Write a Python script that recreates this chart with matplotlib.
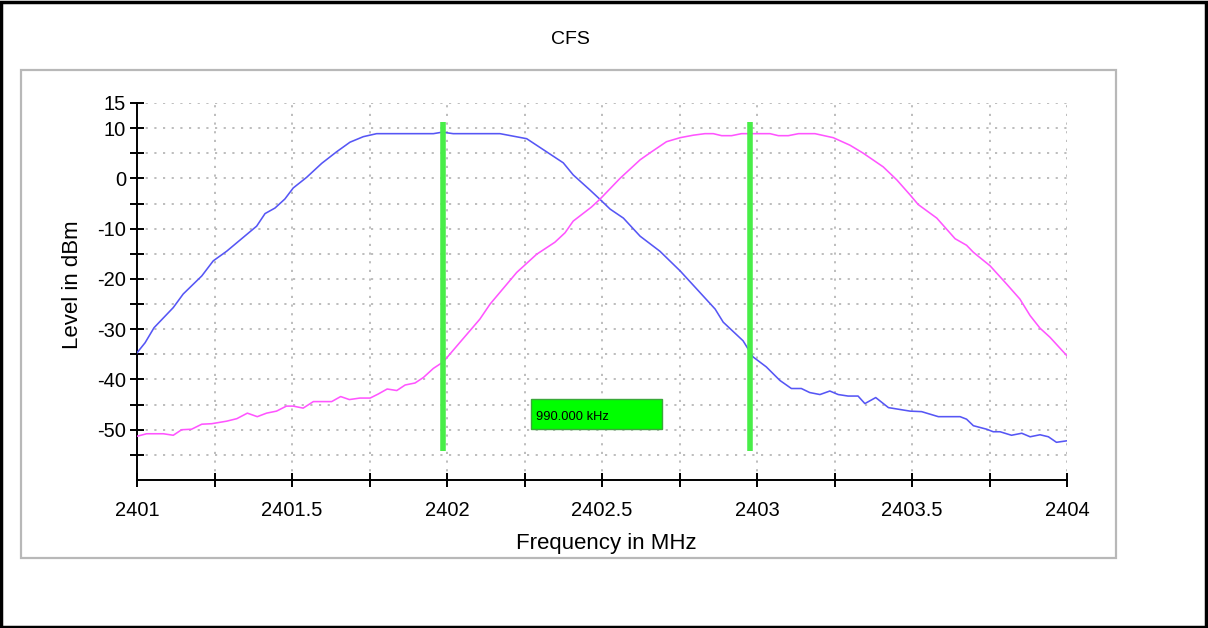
import matplotlib
matplotlib.use("Agg")
import matplotlib.pyplot as plt
from matplotlib.patches import Rectangle
import numpy as np

plt.rcParams['font.family'] = ['Liberation Sans', 'DejaVu Sans']

# trace 1 (blue)
blue_f = [2401.000, 2401.026, 2401.055, 2401.117, 2401.149, 2401.209, 2401.246, 2401.289,
          2401.322, 2401.386, 2401.413, 2401.445, 2401.477, 2401.504, 2401.547, 2401.596,
          2401.644, 2401.687, 2401.730, 2401.773, 2401.956, 2401.985, 2402.020, 2402.171,
          2402.257, 2402.321, 2402.375, 2402.407, 2402.461, 2402.494, 2402.526, 2402.569,
          2402.623, 2402.687, 2402.752, 2402.816, 2402.865, 2402.891, 2402.955, 2402.987,
          2403.030, 2403.074, 2403.111, 2403.143, 2403.170, 2403.203, 2403.235, 2403.262,
          2403.294, 2403.326, 2403.348, 2403.383, 2403.424, 2403.494, 2403.531, 2403.585,
          2403.655, 2403.676, 2403.698, 2403.741, 2403.762, 2403.784, 2403.821, 2403.854,
          2403.881, 2403.913, 2403.940, 2403.966, 2404.000]
blue_db = [-34.7, -32.7, -29.7, -25.7, -23.0, -19.4, -16.4, -14.5,
           -12.8, -9.5, -7.0, -5.9, -4.1, -1.9, 0.2, 3.0,
           5.3, 7.2, 8.3, 8.9, 8.9, 9.2, 8.9, 8.9,
           7.9, 5.3, 3.1, 0.7, -2.3, -4.2, -6.1, -7.9,
           -11.5, -14.5, -18.4, -22.7, -26.0, -28.6, -32.3, -35.5,
           -37.5, -40.2, -41.8, -41.8, -42.6, -43.0, -42.3, -43.0,
           -43.3, -43.3, -44.8, -43.6, -45.6, -46.3, -46.4, -47.4,
           -47.4, -47.9, -49.2, -49.9, -50.4, -50.4, -51.1, -50.7,
           -51.4, -51.0, -51.4, -52.5, -52.2]

# trace 2 (magenta)
mag_f = [2401.000, 2401.031, 2401.085, 2401.117, 2401.144, 2401.176, 2401.209, 2401.241,
         2401.289, 2401.322, 2401.356, 2401.388, 2401.418, 2401.450, 2401.482, 2401.504,
         2401.536, 2401.569, 2401.628, 2401.657, 2401.685, 2401.719, 2401.752, 2401.778,
         2401.807, 2401.838, 2401.865, 2401.897, 2401.924, 2401.956, 2401.988, 2402.042,
         2402.106, 2402.139, 2402.225, 2402.289, 2402.348, 2402.381, 2402.407, 2402.466,
         2402.494, 2402.558, 2402.623, 2402.660, 2402.708, 2402.752, 2402.795, 2402.832,
         2402.859, 2402.886, 2402.918, 2402.950, 2403.042, 2403.069, 2403.101, 2403.134,
         2403.187, 2403.246, 2403.300, 2403.343, 2403.407, 2403.451, 2403.494, 2403.520,
         2403.580, 2403.639, 2403.676, 2403.698, 2403.752, 2403.805, 2403.848, 2403.881,
         2403.913, 2403.945, 2404.000]
mag_db = [-51.3, -50.8, -50.8, -51.1, -50.0, -49.9, -48.9, -48.8,
          -48.3, -47.8, -46.7, -47.4, -46.7, -46.3, -45.3, -45.3,
          -45.7, -44.4, -44.4, -43.4, -44.0, -43.7, -43.7, -42.9,
          -41.9, -42.2, -41.1, -40.7, -39.6, -37.8, -36.5, -32.6,
          -28.0, -25.0, -18.7, -15.1, -12.7, -10.8, -8.5, -5.7,
          -4.1, 0.0, 3.7, 5.3, 7.3, 8.1, 8.6, 8.9,
          8.9, 8.5, 8.5, 8.9, 8.9, 8.5, 8.5, 8.9,
          8.9, 8.1, 6.6, 5.0, 2.3, -0.3, -3.3, -5.2,
          -7.9, -12.0, -13.3, -14.7, -17.4, -21.0, -24.0, -27.3,
          -29.8, -31.6, -35.3]

# marker positions in MHz
markers = [2401.987, 2402.977]

x_ticks = np.arange(2401, 2404.01, 0.25)
y_ticks = np.arange(-55, 16, 5)

W, H = 1208, 628
fig = plt.figure(figsize=(W / 100, H / 100), dpi=100)

# outer frame and grey panel
fig.add_artist(Rectangle((0.001, 0.002), 0.997, 0.995, transform=fig.transFigure,
                         fill=False, edgecolor='black', linewidth=2.5))
fig.add_artist(Rectangle((21 / W, 1 - 558 / H), (1116 - 21) / W, (558 - 70) / H,
                         transform=fig.transFigure, fill=False,
                         edgecolor='#b8b8b8', linewidth=1.6))

ax = fig.add_axes([137 / W, 148 / H, 930 / W, 377 / H])
ax.plot(blue_f, blue_db, color='#5656f5', lw=1.15, zorder=3)
ax.plot(mag_f, mag_db, color='#ff55ff', lw=1.15, zorder=3)
ax.vlines(markers, -54.2, 11.2, color='#48ee48', lw=4.0, zorder=4)

# delta box between the two markers
delta = (markers[1] - markers[0]) * 1000
mid = (markers[0] + markers[1]) / 2
ax.add_patch(Rectangle((mid - 0.21, -49.9), 0.42, 6.1, facecolor='#00ff00',
                       edgecolor='#3aa83a', linewidth=1.0, zorder=5))
ax.text(mid - 0.196, -47.5, f"{delta:.3f} kHz", fontsize=9.3, va='center',
        ha='left', zorder=6)

ax.set_xlim(2401, 2404)
ax.set_ylim(-60, 15)
ax.set_xticks(x_ticks)
ax.set_xticklabels([f"{v:g}" if abs(v * 2 - round(v * 2)) < 1e-6 else '' for v in x_ticks])
ax.set_yticks(y_ticks)
ax.set_yticklabels([str(v) if (v % 10 == 0 or v == 15) else '' for v in y_ticks])
ax.tick_params(direction='inout', length=10, width=1.4, labelsize=14.5, colors='black')
ax.tick_params(axis='y', pad=3)
ax.tick_params(axis='x', pad=10)
ax.grid(True, color='#b8b8b8', linestyle=(0, (1.2, 3.6)), linewidth=1.3)
for s in ['top', 'right']:
    ax.spines[s].set_visible(False)
for s in ['left', 'bottom']:
    ax.spines[s].set_linewidth(1.4)

fig.text(570 / W, 1 - 40 / H, 'CFS', ha='center', va='center', fontsize=14)
fig.text(606 / W, 1 - 543 / H, 'Frequency in MHz', ha='center', va='center', fontsize=16)
fig.text(73 / W, 1 - 285 / H, 'Level in dBm', ha='center', va='center',
         rotation=90, fontsize=16)

fig.savefig('out.png', dpi=100)
